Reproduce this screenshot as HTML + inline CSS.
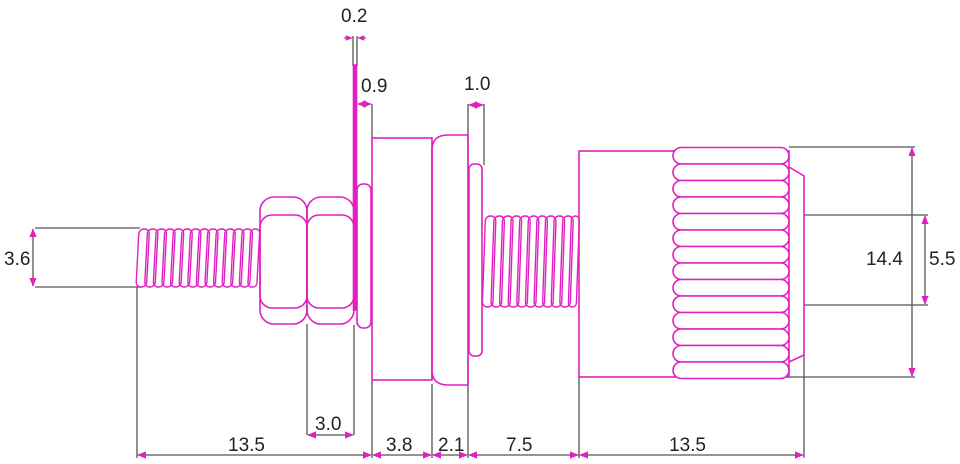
<!DOCTYPE html>
<html><head><meta charset="utf-8"><style>
html,body{margin:0;padding:0;background:#fff;}
svg{display:block;}
text{font-family:"Liberation Sans",sans-serif;font-size:19px;fill:#222;}
</style></head><body>
<svg width="960" height="464" viewBox="0 0 960 464" xmlns="http://www.w3.org/2000/svg">
<defs>
<marker id="a" viewBox="0 0 10 10" refX="9" refY="5" markerWidth="7" markerHeight="7" orient="auto-start-reverse"><path d="M0,1 L10,5 L0,9 Z" fill="#e020c0"/></marker>
</defs>
<g stroke="#555" stroke-width="1.3" fill="none">
<line x1="35" y1="228" x2="140" y2="228"/><line x1="35" y1="287" x2="140" y2="287"/>
<line x1="137" y1="287" x2="137" y2="458"/>
<line x1="307" y1="324" x2="307" y2="435"/><line x1="354" y1="325" x2="354" y2="435"/>
<line x1="372" y1="380" x2="372" y2="458"/><line x1="432" y1="384" x2="432" y2="458"/>
<line x1="468" y1="356" x2="468" y2="458"/><line x1="579" y1="377" x2="579" y2="458"/>
<line x1="804" y1="355" x2="804" y2="458"/>
<line x1="353" y1="36" x2="353" y2="66"/><line x1="357" y1="36" x2="357" y2="66"/>
<line x1="372" y1="104" x2="372" y2="138"/>
<line x1="468" y1="104" x2="468" y2="165"/><line x1="484" y1="104" x2="484" y2="165"/>
<line x1="789" y1="147" x2="915" y2="147"/><line x1="789" y1="377" x2="915" y2="377"/>
<line x1="804" y1="215" x2="928" y2="215"/><line x1="804" y1="305" x2="928" y2="305"/>
</g>
<g stroke="#555" stroke-width="1.3" marker-start="url(#a)" marker-end="url(#a)">
<line x1="33" y1="229" x2="33" y2="286"/>
<line x1="138" y1="455" x2="371" y2="455"/>
<line x1="373" y1="455" x2="431" y2="455"/>
<line x1="433" y1="455" x2="467" y2="455"/>
<line x1="469" y1="455" x2="578" y2="455"/>
<line x1="580" y1="455" x2="803" y2="455"/>
<line x1="308" y1="435" x2="353" y2="435"/>
<line x1="358" y1="104" x2="371" y2="104"/>
<line x1="469" y1="105" x2="483" y2="105"/>
<line x1="912" y1="148" x2="912" y2="376"/>
<line x1="925" y1="216" x2="925" y2="304"/>
</g>
<line x1="344" y1="38" x2="352" y2="38" stroke="#555" marker-end="url(#a)"/>
<line x1="366" y1="38" x2="358" y2="38" stroke="#555" marker-end="url(#a)"/>
<text x="4" y="265">3.6</text>
<text x="228" y="451">13.5</text>
<text x="315" y="430">3.0</text>
<text x="386" y="451">3.8</text>
<text x="438" y="451">2.1</text>
<text x="506" y="451">7.5</text>
<text x="669" y="451">13.5</text>
<text x="341" y="22">0.2</text>
<text x="361" y="92">0.9</text>
<text x="464" y="90">1.0</text>
<text x="866" y="265">14.4</text>
<text x="929" y="265">5.5</text>
<g stroke="#e020c0" stroke-width="1.6" fill="none">
<g transform="skewX(-3) translate(14,0)" stroke-width="1.4">
<rect x="137" y="229" width="10.5" height="58" rx="5"/><rect x="145.6" y="229" width="10.5" height="58" rx="5"/>
<rect x="154.2" y="229" width="10.5" height="58" rx="5"/><rect x="162.8" y="229" width="10.5" height="58" rx="5"/>
<rect x="171.4" y="229" width="10.5" height="58" rx="5"/><rect x="180" y="229" width="10.5" height="58" rx="5"/>
<rect x="188.6" y="229" width="10.5" height="58" rx="5"/><rect x="197.2" y="229" width="10.5" height="58" rx="5"/>
<rect x="205.8" y="229" width="10.5" height="58" rx="5"/><rect x="214.4" y="229" width="10.5" height="58" rx="5"/>
<rect x="223" y="229" width="10.5" height="58" rx="5"/><rect x="231.6" y="229" width="10.5" height="58" rx="5"/>
<rect x="240.2" y="229" width="10.5" height="58" rx="5"/><rect x="248.8" y="229" width="9" height="58" rx="4"/>
</g>
<rect x="260" y="197" width="47" height="127" rx="14"/>
<rect x="260" y="215" width="47" height="93" rx="12"/>
<rect x="307" y="197" width="47" height="127" rx="14"/>
<rect x="307" y="215" width="47" height="93" rx="12"/>
<rect x="353.5" y="65" width="3" height="245" fill="#e020c0"/>
<rect x="357" y="184" width="14" height="144" rx="6"/>
<rect x="372" y="138" width="60" height="242"/>
<path d="M432,380 L432,150 Q432,135 448,135 L468,135 L468,385 L448,385 Q432,385 432,370"/>
<rect x="469" y="164" width="13" height="192" rx="5"/>
<g transform="skewX(-2) translate(9,0)" stroke-width="1.4">
<rect x="484" y="216" width="10.5" height="91" rx="5"/><rect x="492.6" y="216" width="10.5" height="91" rx="5"/>
<rect x="501.2" y="216" width="10.5" height="91" rx="5"/><rect x="509.8" y="216" width="10.5" height="91" rx="5"/>
<rect x="518.4" y="216" width="10.5" height="91" rx="5"/><rect x="527" y="216" width="10.5" height="91" rx="5"/>
<rect x="535.6" y="216" width="10.5" height="91" rx="5"/><rect x="544.2" y="216" width="10.5" height="91" rx="5"/>
<rect x="552.8" y="216" width="10.5" height="91" rx="5"/><rect x="561.4" y="216" width="10.5" height="91" rx="5"/>
<rect x="570" y="216" width="8" height="91" rx="4"/>
</g>
<rect x="579" y="151" width="210" height="226"/>
<path d="M789,167 L804,176 L804,355 L789,362"/>
<g fill="#fff">
<rect x="673" y="147.5" width="116" height="16.5" rx="8.2"/><rect x="673" y="164" width="116" height="16.5" rx="8.2"/>
<rect x="673" y="180.5" width="116" height="16.5" rx="8.2"/><rect x="673" y="197" width="116" height="16.5" rx="8.2"/>
<rect x="673" y="213.5" width="116" height="16.5" rx="8.2"/><rect x="673" y="230" width="116" height="16.5" rx="8.2"/>
<rect x="673" y="246.5" width="116" height="16.5" rx="8.2"/><rect x="673" y="263" width="116" height="16.5" rx="8.2"/>
<rect x="673" y="279.5" width="116" height="16.5" rx="8.2"/><rect x="673" y="296" width="116" height="16.5" rx="8.2"/>
<rect x="673" y="312.5" width="116" height="16.5" rx="8.2"/><rect x="673" y="329" width="116" height="16.5" rx="8.2"/>
<rect x="673" y="345.5" width="116" height="16.5" rx="8.2"/><rect x="673" y="362" width="116" height="16.5" rx="8.2"/>
</g>
</g>
</svg>
</body></html>
